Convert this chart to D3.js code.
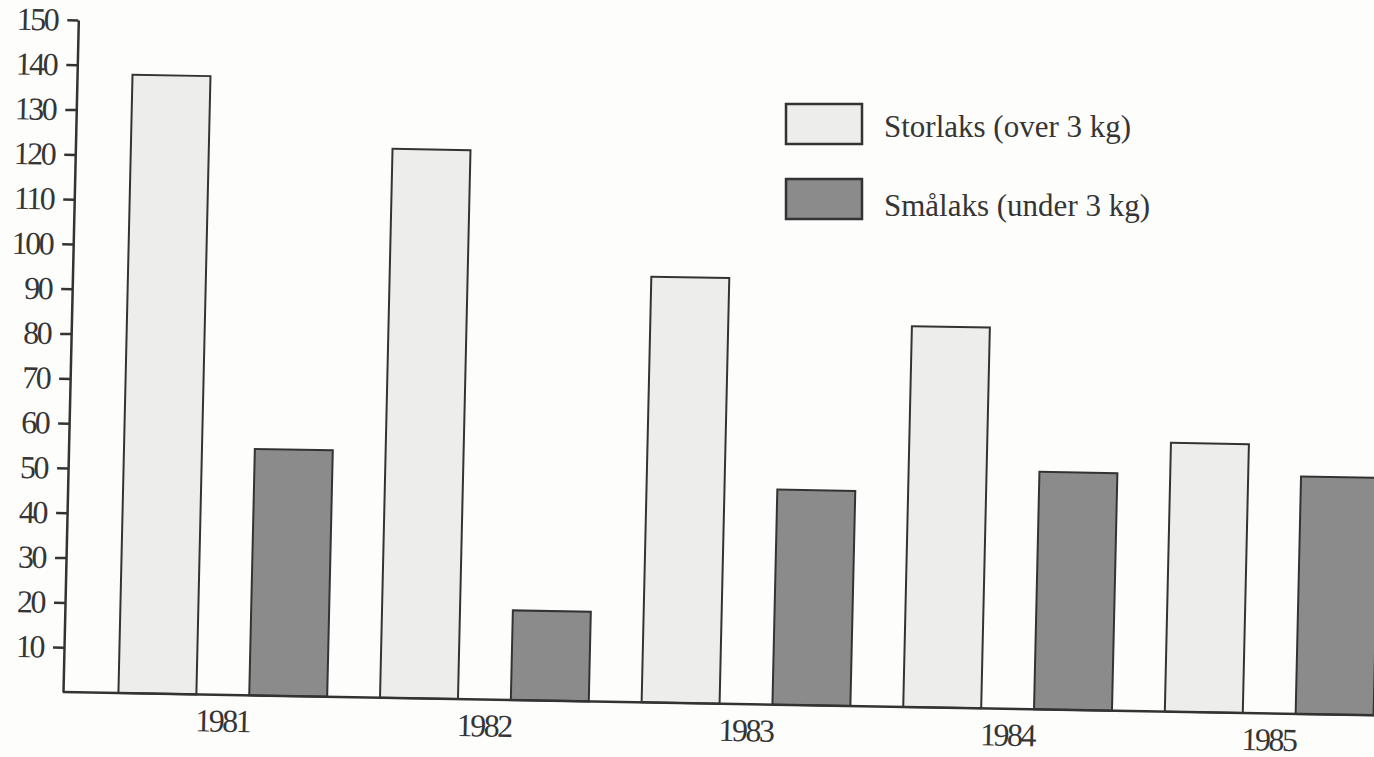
<!DOCTYPE html>
<html>
<head>
<meta charset="utf-8">
<script src="https://cdn.jsdelivr.net/npm/d3@7/dist/d3.min.js"></script>
<style>
  html, body { margin: 0; padding: 0; background: #fdfdfc; }
  svg { display: block; }
  text { font-family: "Liberation Serif", "DejaVu Serif", serif; fill: #353535; }
</style>
</head>
<body>
<svg id="chart" width="1374" height="757"></svg>
<script>
// ---- data ----
const years = ["1981", "1982", "1983", "1984", "1985"];
const storlaks = [138, 122.5, 95, 85, 60];
const smalaks = [55, 20, 48, 53, 53];
const seriesKeys = ["storlaks", "smalaks"];
const seriesLabels = ["Storlaks (over 3 kg)", "Smålaks (under 3 kg)"];
const yTicks = [10, 20, 30, 40, 50, 60, 70, 80, 90, 100, 110, 120, 130, 140, 150];

const seriesValues = { storlaks: storlaks, smalaks: smalaks };
const fills = { storlaks: "#ededeb", smalaks: "#8b8b8b" };

const svg = d3.select("#chart");

// scanned page is slightly rotated/skewed: draw plot in a transformed frame
const g = svg.append("g")
  .attr("transform", "matrix(1,0.0178,-0.0228,1,63,692)");

const y = d3.scaleLinear().domain([0, 150]).range([0, -672]);
const x0 = d3.scaleBand().domain(years).range([29, 1337]);
const x1 = d3.scaleBand().domain(seriesKeys).range([0, x0.bandwidth()])
  .paddingInner(0.404).paddingOuter(0.202);

// bars
const rows = [];
years.forEach((yr, i) => seriesKeys.forEach(k => rows.push({ year: yr, key: k, value: seriesValues[k][i] })));

g.selectAll("rect.bar").data(rows).enter().append("rect")
  .attr("class", "bar")
  .attr("x", d => x0(d.year) + x1(d.key))
  .attr("y", d => y(d.value))
  .attr("width", x1.bandwidth())
  .attr("height", d => y(0) - y(d.value))
  .attr("fill", d => fills[d.key])
  .attr("stroke", "#333")
  .attr("stroke-width", 2);

// baseline
g.append("line")
  .attr("x1", 0).attr("x2", 1312)
  .attr("y1", y(0)).attr("y2", y(0))
  .attr("stroke", "#333").attr("stroke-width", 2.5);

// y axis
const yAxis = g.append("g")
  .call(d3.axisLeft(y).tickValues(yTicks).tickSize(11).tickSizeOuter(0).tickPadding(10).tickFormat(d3.format("d")));
yAxis.select(".domain").attr("stroke", "#333").attr("stroke-width", 2.5);
yAxis.selectAll(".tick line").attr("stroke", "#333").attr("stroke-width", 2.5);
yAxis.selectAll(".tick text")
  .attr("fill", "#353535")
  .style("font-family", "'Liberation Serif', serif")
  .style("font-size", "32px")
  .style("letter-spacing", "-2.5px");

// year labels
g.selectAll("text.year").data(years).enter().append("text")
  .attr("class", "year")
  .attr("x", d => x0(d) + x0.bandwidth() / 2)
  .attr("y", 37)
  .attr("text-anchor", "middle")
  .style("font-size", "32px")
  .style("letter-spacing", "-2.5px")
  .text(d => d);

// legend
const legend = svg.append("g").attr("transform", "translate(786,104)");
const li = legend.selectAll("g").data(seriesKeys).enter().append("g")
  .attr("transform", (d, i) => `translate(0,${i * 75})`);
li.append("rect")
  .attr("width", 76).attr("height", 40)
  .attr("fill", d => fills[d])
  .attr("stroke", "#333").attr("stroke-width", 2.5);
li.append("text")
  .attr("x", 98).attr("y", (d, i) => i === 0 ? 33 : 37)
  .style("font-size", "31px")
  .text((d, i) => seriesLabels[i]);
</script>
</body>
</html>
